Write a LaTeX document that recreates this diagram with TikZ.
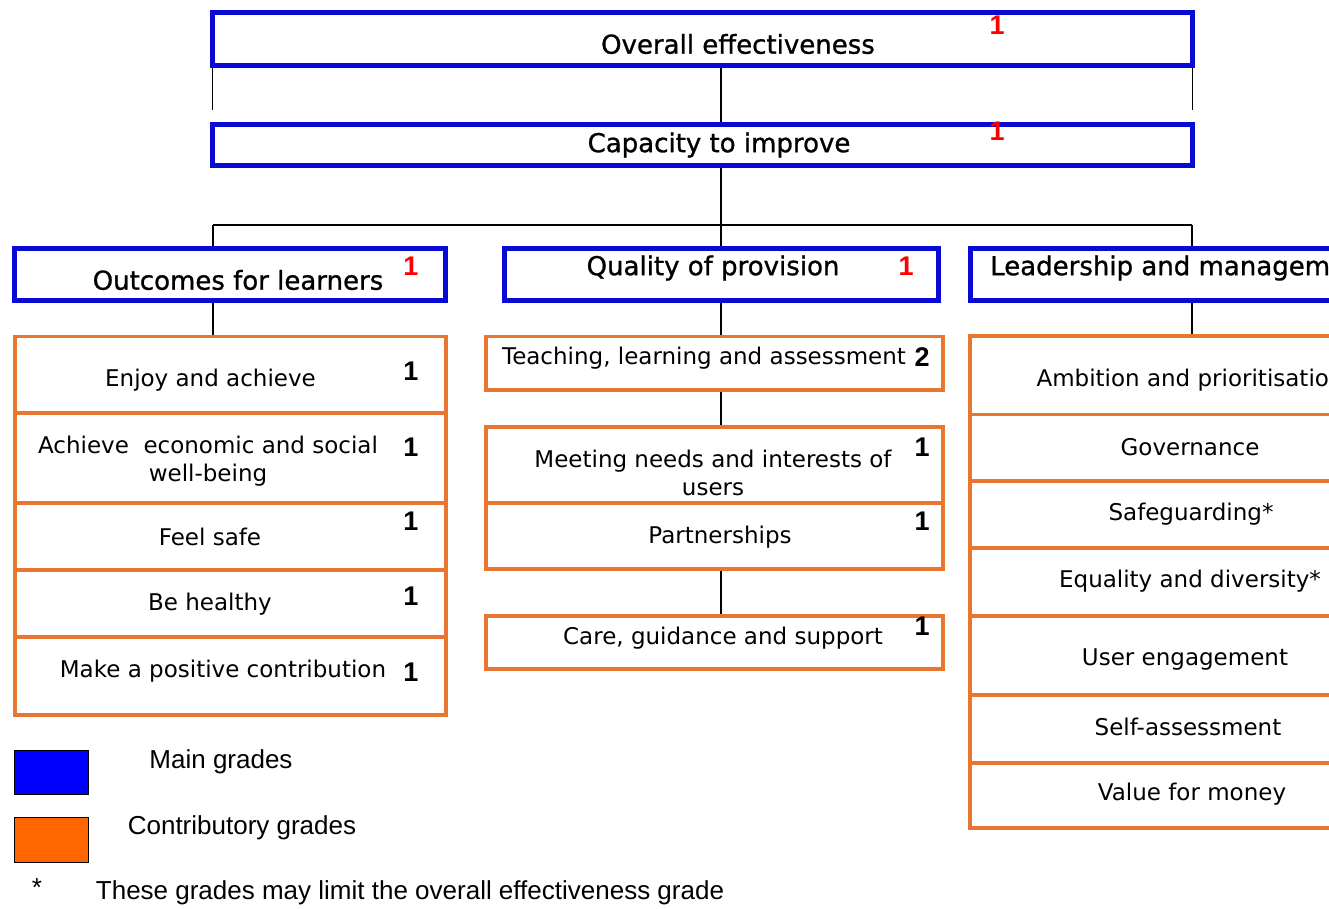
\documentclass[tikz,border=0pt]{standalone}
\usepackage{fontspec}
\setmainfont{DejaVu Sans}
\newfontfamily\headfont[FakeBold=1]{DejaVu Sans}
\newfontfamily\gradefont{Liberation Sans}
\newfontfamily\keyfont{Liberation Sans}
\usetikzlibrary{backgrounds}
\definecolor{mainblue}{RGB}{10,10,215}
\definecolor{keyblue}{RGB}{0,0,255}
\definecolor{contrib}{RGB}{232,118,48}
\definecolor{keyorange}{RGB}{255,102,0}
\definecolor{gradered}{RGB}{255,0,0}

\begin{document}
\begin{tikzpicture}[x=1pt,y=-1pt,
  mainbox/.style={draw=mainblue,line width=5pt,inner sep=0pt},
  subbox/.style={draw=contrib,line width=3.5pt,inner sep=0pt},
  headtxt/.style={font=\headfont\fontsize{26}{30}\selectfont,inner sep=0pt},
  subtxt/.style={font=\fontsize{23}{28}\selectfont,inner sep=0pt,align=center},
  keytxt/.style={font=\keyfont\fontsize{26}{30}\selectfont,inner sep=0pt},
  grade/.style={font=\gradefont\bfseries\fontsize{27}{30}\selectfont,inner sep=0pt},
  link/.style={line width=1.3pt}]
\useasboundingbox (0,0) rectangle (1329,909);
\clip (0,0) rectangle (1329,909);

% main grades
\node[mainbox,minimum width=980pt,minimum height=53pt] (overall) at (702.5,39) {};
\node[headtxt] (overallT) at (738,44) {Overall effectiveness};
\node[grade,text=gradered] (overallG) at (997,25) {1};

\node[mainbox,minimum width=980pt,minimum height=41pt] (capacity) at (702.5,145) {};
\node[headtxt] (capacityT) at (719,145) {Capacity to improve};
\node[grade,text=gradered] (capacityG) at (997,131) {1};

\node[mainbox,minimum width=431pt,minimum height=52pt] (outcomes) at (230,274) {};
\node[headtxt] (outcomesT) at (238,280) {Outcomes for learners};
\node[grade,text=gradered] (outcomesG) at (411,266) {1};

\node[mainbox,minimum width=434pt,minimum height=52pt] (quality) at (721,274) {};
\node[headtxt] (qualityT) at (713,268) {Quality of provision};
\node[grade,text=gradered] (qualityG) at (906,266) {1};

\node[mainbox,minimum width=444pt,minimum height=52pt] (leadership) at (1192,274) {};
\node[headtxt,anchor=west] (leadershipT) at (990,268) {Leadership and management};

% outcomes for learners
\node[subbox,minimum width=431pt,minimum height=76.5pt] (enjoy) at (230.5,374.75) {};
\node[subtxt] (enjoyT) at (210.5,380) {Enjoy and achieve};
\node[grade] (enjoyG) at (411,371) {1};

\node[subbox,minimum width=431pt,minimum height=90pt] (econ) at (230.5,458) {};
\node[subtxt] (econT) at (208,461) {Achieve~ economic and social\\well-being};
\node[grade] (econG) at (411,447) {1};

\node[subbox,minimum width=431pt,minimum height=67pt] (safe) at (230.5,536.5) {};
\node[subtxt] (safeT) at (210,537) {Feel safe};
\node[grade] (safeG) at (411,521) {1};

\node[subbox,minimum width=431pt,minimum height=67pt] (healthy) at (230.5,603.5) {};
\node[subtxt] (healthyT) at (210,604) {Be healthy};
\node[grade] (healthyG) at (411,596) {1};

\node[subbox,minimum width=431pt,minimum height=78pt] (contribution) at (230.5,676) {};
\node[subtxt] (contributionT) at (223,671) {Make a positive contribution};
\node[grade] (contributionG) at (411,672) {1};

% quality of provision
\node[subbox,minimum width=457pt,minimum height=53.5pt] (teaching) at (714.5,363.25) {};
\node[subtxt] (teachingT) at (704,358) {Teaching, learning and assessment};
\node[grade] (teachingG) at (922,357) {2};

\node[subbox,minimum width=457pt,minimum height=76pt] (meeting) at (714.5,465) {};
\node[subtxt] (meetingT) at (713,473) {Meeting needs and interests of\\users};
\node[grade] (meetingG) at (922,447) {1};

\node[subbox,minimum width=457pt,minimum height=66pt] (partner) at (714.5,536) {};
\node[subtxt] (partnerT) at (720,537) {Partnerships};
\node[grade] (partnerG) at (922,521) {1};

\node[subbox,minimum width=457pt,minimum height=53pt] (care) at (714.5,642.5) {};
\node[subtxt] (careT) at (723,638) {Care, guidance and support};
\node[grade] (careG) at (922,626) {1};

% leadership and management
\node[subbox,minimum width=444pt,minimum height=78.5pt] (ambition) at (1192,375.25) {};
\node[subtxt] (ambitionT) at (1190,380) {Ambition and prioritisation};

\node[subbox,minimum width=444pt,minimum height=66.5pt] (governance) at (1192,447.75) {};
\node[subtxt] (governanceT) at (1190,447) {Governance};

\node[subbox,minimum width=444pt,minimum height=67pt] (safeguard) at (1192,514.5) {};
\node[subtxt] (safeguardT) at (1191,514) {Safeguarding*};

\node[subbox,minimum width=444pt,minimum height=68pt] (equality) at (1192,582) {};
\node[subtxt] (equalityT) at (1190,581) {Equality and diversity*};

\node[subbox,minimum width=444pt,minimum height=79pt] (user) at (1192,655.5) {};
\node[subtxt] (userT) at (1185,660) {User engagement};

\node[subbox,minimum width=444pt,minimum height=68pt] (selfassess) at (1192,729) {};
\node[subtxt] (selfassessT) at (1188,727) {Self-assessment};

\node[subbox,minimum width=444pt,minimum height=65pt] (value) at (1192,795.5) {};
\node[subtxt] (valueT) at (1192,794) {Value for money};

% key
\node[draw=black,line width=1pt,fill=keyblue,minimum width=74pt,minimum height=44pt] (keyMain) at (51,772) {};
\node[keytxt] (keyMainT) at (221,762) {Main grades};
\node[draw=black,line width=1pt,fill=keyorange,minimum width=74pt,minimum height=45pt] (keyContrib) at (51,839.5) {};
\node[keytxt] (keyContribT) at (242,828) {Contributory grades};
\node[keytxt] (keyStar) at (37,888) {*};
\node[keytxt] (keyNote) at (410,893) {These grades may limit the overall effectiveness grade};

% connectors
\coordinate (hangL) at (212.5,110);
\coordinate (hangR) at (1192.5,110);
\coordinate (busL) at (213,225);
\coordinate (busM) at (721,225);
\coordinate (busR) at (1192,225);
\begin{scope}[on background layer]
\draw[link] (hangL |- overall.south) -- (hangL);
\draw[link] (hangR |- overall.south) -- (hangR);
\draw[link] (overall.south -| busM) -- (capacity.north -| busM);
\draw[link] (capacity.south -| busM) -- (busM);
\draw[link] (busL) -- (busR);
\draw[link] (busL) -- (outcomes.north -| busL);
\draw[link] (busM) -- (quality.north);
\draw[link] (busR) -- (leadership.north);
\draw[link] (outcomes.south -| busL) -- (enjoy.north -| busL);
\draw[link] (quality.south) -- (teaching.north -| quality.south);
\draw[link] (teaching.south -| quality.south) -- (meeting.north -| quality.south);
\draw[link] (partner.south -| quality.south) -- (care.north -| quality.south);
\draw[link] (leadership.south) -- (ambition.north);
\end{scope}

\end{tikzpicture}
\end{document}
